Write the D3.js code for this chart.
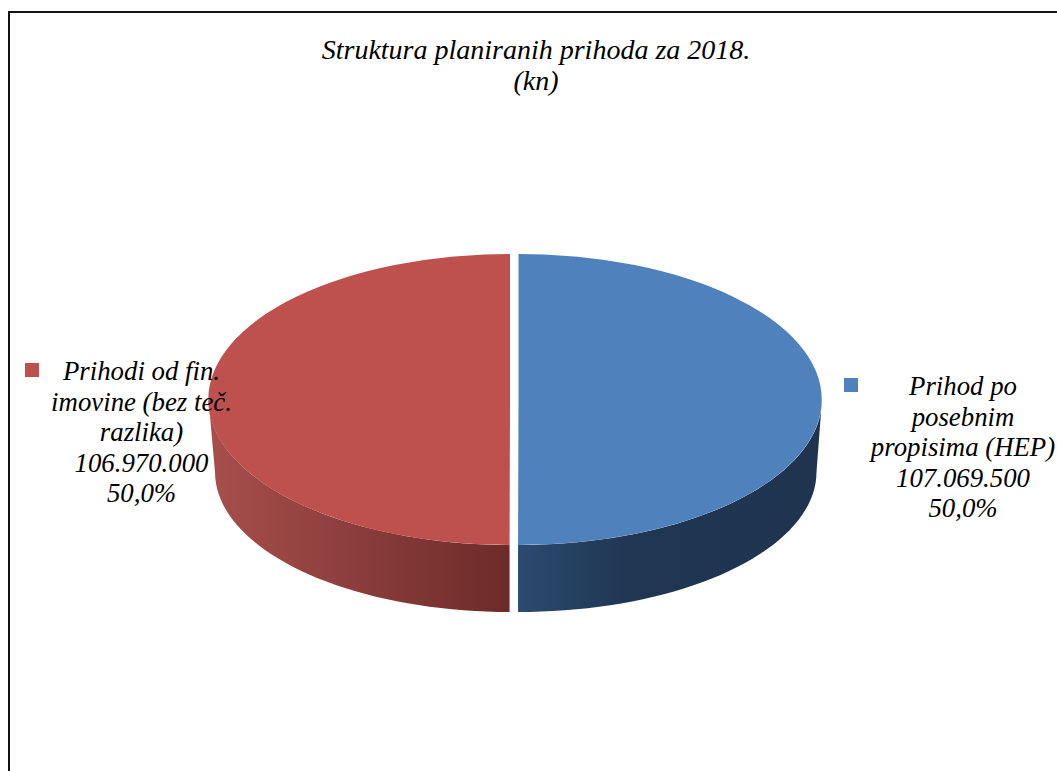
<!DOCTYPE html>
<html>
<head>
<meta charset="utf-8">
<script src="https://cdn.jsdelivr.net/npm/d3@7"></script>
<style>
  html, body { margin: 0; padding: 0; background: #fff; }
  svg { display: block; }
  text { font-family: "Liberation Serif", serif; font-style: italic; fill: #000; }
</style>
</head>
<body>
<svg width="1057" height="771"></svg>
<script>
// data
var categories = ["Prihod po posebnim propisima (HEP)", "Prihodi od fin. imovine (bez teč. razlika)"];
var values = [107069500, 106970000];
var valueLabels = ["107.069.500", "106.970.000"];
var percentLabels = ["50,0%", "50,0%"];
var labelLines = [["Prihod po", "posebnim", "propisima (HEP)"], ["Prihodi od fin.", "imovine (bez teč.", "razlika)"]];
var titleLines = ["Struktura planiranih prihoda za 2018.", "(kn)"];
var topColors = ["#4f81bd", "#be504d"];

var svg = d3.select("svg"),
    width = +svg.attr("width"),
    height = +svg.attr("height");

// chart frame, the picture is cut off on the right and at the bottom
svg.append("path")
    .attr("d", "M9,771V12H1057")
    .attr("fill", "none")
    .attr("stroke", "#111")
    .attr("stroke-width", 2);

var defs = svg.append("defs");

// shading on the side of each slice
var blueSide = defs.append("linearGradient").attr("id", "side0");
blueSide.append("stop").attr("offset", "0%").attr("stop-color", "#2c4b70");
blueSide.append("stop").attr("offset", "35%").attr("stop-color", "#1f3753");
blueSide.append("stop").attr("offset", "100%").attr("stop-color", "#1e344f");

var redSide = defs.append("linearGradient").attr("id", "side1");
redSide.append("stop").attr("offset", "0%").attr("stop-color", "#a84f4c");
redSide.append("stop").attr("offset", "100%").attr("stop-color", "#6c2b29");

var radii = [303.5, 301.5], ry = 145.5, bottomRadii = [298, 295], bottomRy = 140;
var cy = 399.5, bottomCy = 472;
var centers = [518.5, 510];

var pie = d3.pie().sort(null);
var slices = pie(values);

var angle = d3.scaleLinear().domain([0, 40]);

// outer edge of the upper rim, then the lower rim back again
var sideLine = d3.line().x(function(d) { return d[0]; }).y(function(d) { return d[1]; });

function sidePath(d, i) {
    var a0 = Math.max(d.startAngle, Math.PI / 2);
    var a1 = Math.min(d.endAngle, Math.PI * 1.5);
    angle.range([a0, a1]);
    var steps = d3.range(0, 41).map(angle);
    var upper = steps.map(function(a) { return [centers[i] + radii[i] * Math.sin(a), cy - ry * Math.cos(a)]; });
    var lower = steps.map(function(a) { return [centers[i] + bottomRadii[i] * Math.sin(a), bottomCy - bottomRy * Math.cos(a)]; });
    return sideLine(upper.concat(lower.reverse())) + "Z";
}

svg.append("g").selectAll("path")
    .data(slices)
    .enter().append("path")
    .attr("d", sidePath)
    .attr("fill", function(d, i) { return "url(#side" + i + ")"; });

// top face: circle arc squashed into an ellipse
var arc = d3.arc().innerRadius(0).outerRadius(function(d, i) { return radii[i]; });

svg.append("g").selectAll("path")
    .data(slices)
    .enter().append("path")
    .attr("d", arc)
    .attr("transform", function(d, i) {
        return "translate(" + centers[i] + "," + cy + ") scale(1," + (ry / radii[i]) + ")";
    })
    .attr("fill", function(d, i) { return topColors[i]; });

// title
svg.append("g").selectAll("text")
    .data(titleLines)
    .enter().append("text")
    .attr("x", 536)
    .attr("y", function(d, i) { return 59 + i * 31; })
    .attr("text-anchor", "middle")
    .attr("font-size", 28)
    .text(function(d) { return d; });

// labels with their legend keys
var labelX = [963, 141.5], labelY = [395, 380];
var swatchX = [844, 25], swatchY = [378, 363];

categories.forEach(function(c, i) {
    var lines = labelLines[i].concat([valueLabels[i], percentLabels[i]]);
    svg.append("rect")
        .attr("x", swatchX[i])
        .attr("y", swatchY[i])
        .attr("width", 14)
        .attr("height", 14)
        .attr("fill", topColors[i]);
    svg.append("g").selectAll("text")
        .data(lines)
        .enter().append("text")
        .attr("x", labelX[i])
        .attr("y", function(d, j) { return labelY[i] + j * 30.6; })
        .attr("text-anchor", "middle")
        .attr("font-size", 26.8)
        .text(function(d) { return d; });
});
</script>
</body>
</html>
